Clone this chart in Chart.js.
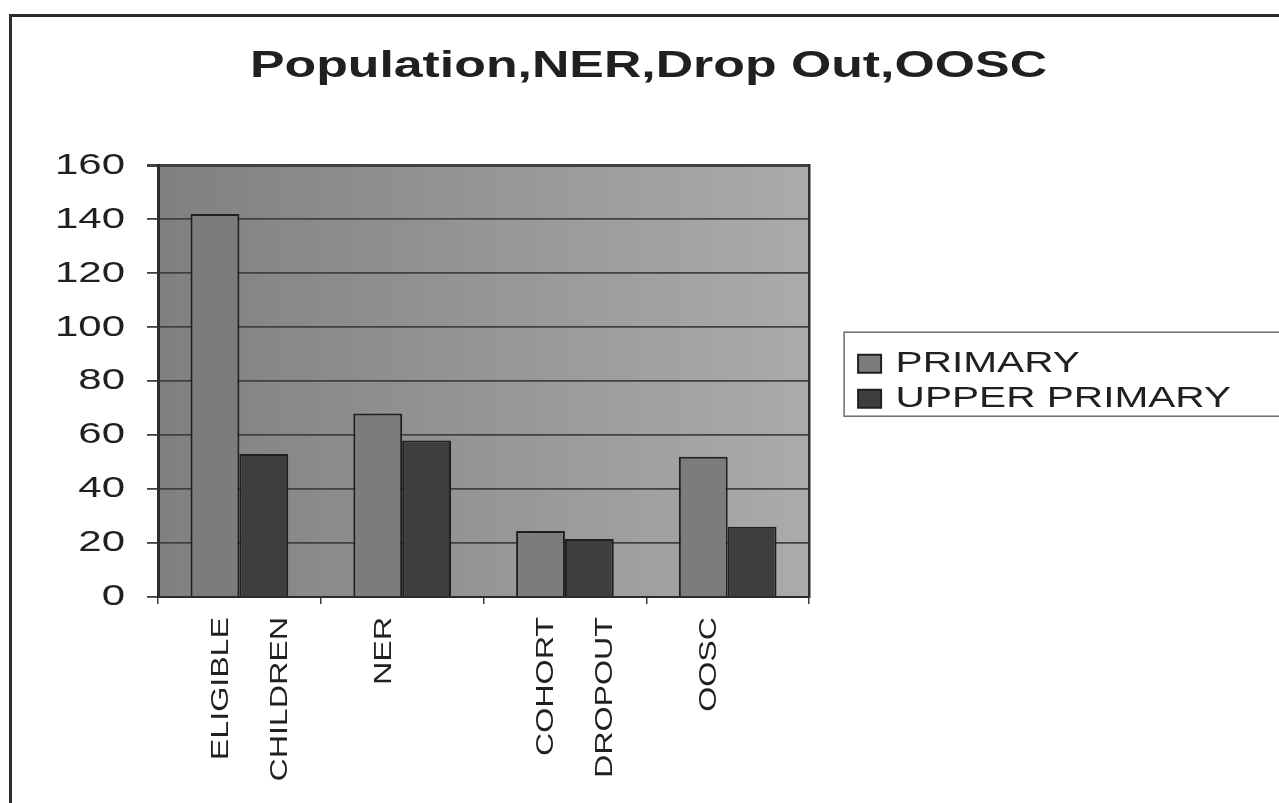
<!DOCTYPE html>
<html>
<head>
<meta charset="utf-8">
<title>Population,NER,Drop Out,OOSC</title>
<script src="https://cdn.jsdelivr.net/npm/chart.js@4.4.1/dist/chart.umd.min.js"></script>
<style>
  html, body { margin: 0; padding: 0; background: #fff; }
  #wrap { position: relative; width: 1279px; height: 803px; overflow: hidden; }
  #frame { position: absolute; left: 9px; top: 14px; right: -6px; bottom: -6px;
           border-left: 3px solid #2a2d2b; border-top: 3px solid #2a2d2b; pointer-events: none; }
</style>
</head>
<body>
<div id="wrap">
  <canvas id="chart" width="1279" height="803"></canvas>
  <div id="frame"></div>
</div>
<script>
// data
let categories = [["ELIGIBLE", "CHILDREN"], "NER", ["COHORT", "DROPOUT"], "OOSC"];
let seriesNames = ["PRIMARY", "UPPER PRIMARY"];
let primary = [142, 68, 24.5, 52];
let upperPrimary = [53, 58, 21.5, 26];
let yMin = 0;
let yMax = 160;
let yStep = 20;

let family = "'Liberation Sans', Arial, sans-serif";
let ink = "#1e211f";

// the original uses a wide (extended) Helvetica; stretch canvas text sideways to match
const STRETCH = 1.4;
let context = document.getElementById("chart").getContext("2d");
let rawFill = context.fillText.bind(context);
let rawMeasure = context.measureText.bind(context);
context.fillText = function (text, x, y) {
    this.save();
    this.translate(x, y);
    this.scale(STRETCH, 1);
    rawFill(text, 0, 0);
    this.restore();
};
context.measureText = function (text) {
    let m = rawMeasure(text);
    return {
        width: m.width * STRETCH,
        actualBoundingBoxAscent: m.actualBoundingBoxAscent,
        actualBoundingBoxDescent: m.actualBoundingBoxDescent,
        actualBoundingBoxLeft: m.actualBoundingBoxLeft * STRETCH,
        actualBoundingBoxRight: m.actualBoundingBoxRight * STRETCH
    };
};

let plotBackground = {
    id: "plotBackground",
    beforeDraw(chart) {
        let a = chart.chartArea;
        let ctx = chart.ctx;
        let g = ctx.createLinearGradient(a.left, 0, a.right, 0);
        g.addColorStop(0, "#7e817f");
        g.addColorStop(1, "#a9aca9");
        ctx.save();
        ctx.fillStyle = g;
        ctx.fillRect(a.left, a.top, a.right - a.left, a.bottom - a.top);
        ctx.restore();
    }
};

// Chart.js caps a side legend at a fraction of the width; this one is wide
let wideLegend = {
    id: "wideLegend",
    afterInit(chart) {
        let legend = chart.legend;
        let fit = legend.fit;
        legend.fit = function () {
            this.maxWidth = 600;
            fit.call(this);
        };
    }
};

let legendFrame = {
    id: "legendFrame",
    afterDraw(chart) {
        let boxes = chart.legend.legendHitBoxes;
        if (!boxes || !boxes.length) return;
        let first = boxes[0];
        let last = boxes[boxes.length - 1];
        let ctx = chart.ctx;
        let top = first.top - 17;
        ctx.save();
        ctx.strokeStyle = "#6b6e6c";
        ctx.lineWidth = 1.5;
        ctx.strokeRect(first.left - 14, top, chart.width, last.top + last.height + 3 - top);
        ctx.restore();
    }
};

let chart = new Chart(context, {
    type: "bar",
    data: {
        labels: categories,
        datasets: [
            {
                label: seriesNames[0],
                data: primary,
                backgroundColor: "#7a7d7b",
                borderColor: "#1d201e",
                borderWidth: 2
            },
            {
                label: seriesNames[1],
                data: upperPrimary,
                backgroundColor: "#3c3f3d",
                borderColor: "#1d201e",
                borderWidth: 2
            }
        ]
    },
    options: {
        responsive: false,
        animation: false,
        datasets: {
            bar: { categoryPercentage: 0.6, barPercentage: 1.0 }
        },
        layout: { padding: { left: 56, right: 38, top: 0, bottom: 0 } },
        plugins: {
            title: {
                display: true,
                text: "Population,NER,Drop Out,OOSC",
                color: ink,
                font: { family: family, size: 37, weight: "bold" },
                padding: { top: 45, bottom: 76 }
            },
            legend: {
                position: "right",
                fullSize: false,
                align: "center",
                labels: {
                    color: ink,
                    font: { family: family, size: 29 },
                    boxWidth: 23,
                    boxHeight: 18,
                    padding: 6
                }
            },
            tooltip: { enabled: false }
        },
        scales: {
            x: {
                grid: { drawOnChartArea: false, drawTicks: true, tickLength: 7, color: "#3a3d3b", lineWidth: 1.5 },
                border: { display: true, color: "#2a2d2b", width: 2 },
                ticks: {
                    autoSkip: false,
                    minRotation: 90,
                    maxRotation: 90,
                    padding: 13,
                    labelOffset: -18,
                    color: ink,
                    font: { family: family, size: 23, lineHeight: 2.57 }
                },
                afterFit: s => { s.height = 206; }
            },
            y: {
                min: yMin,
                max: yMax,
                ticks: {
                    stepSize: yStep,
                    padding: 22,
                    color: ink,
                    font: { family: family, size: 30 }
                },
                grid: {
                    color: "#3f4240",
                    lineWidth: c => (c.tick && c.tick.value === yMax ? 3 : 1.8),
                    tickLength: 11
                },
                border: { color: "#2a2d2b", width: 3 },
                afterFit: s => { s.width = 102; }
            },
            y2: {
                position: "right",
                display: true,
                grid: { display: false },
                ticks: { display: false },
                border: { display: true, color: "#2f3230", width: 2.5 },
                afterFit: s => { s.width = 43; }
            }
        }
    },
    plugins: [plotBackground, wideLegend, legendFrame]
});
</script>
</body>
</html>
